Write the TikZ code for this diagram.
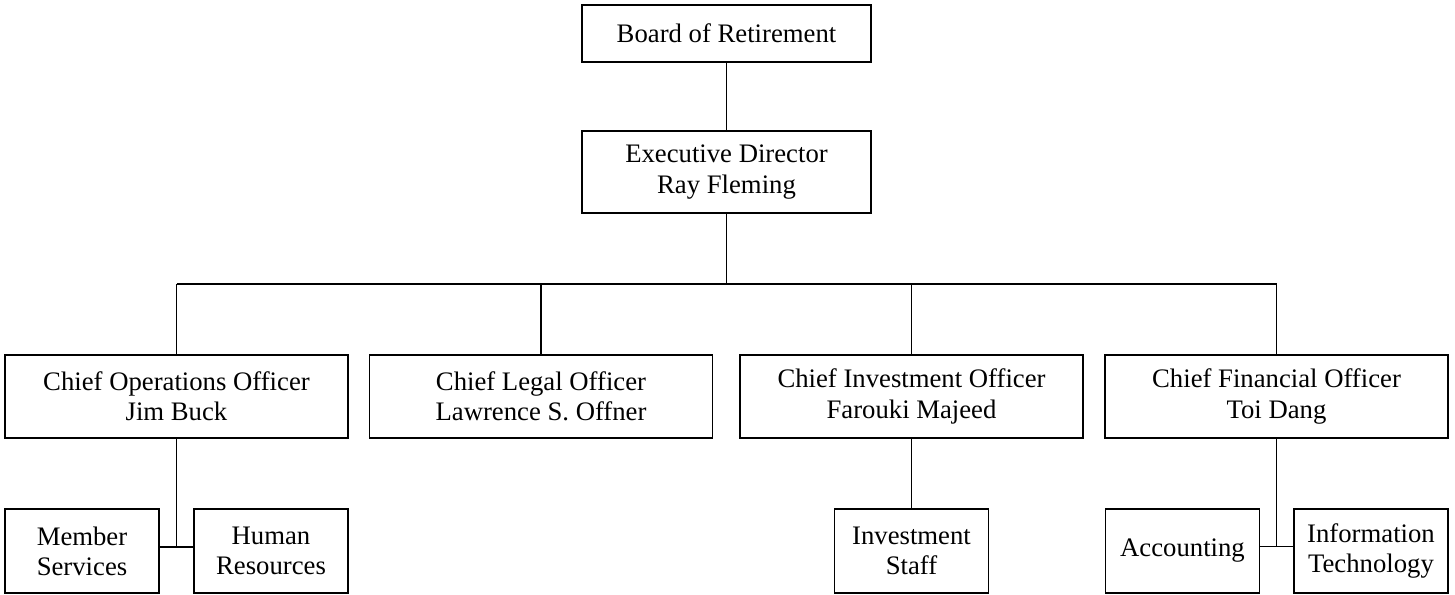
\documentclass[tikz,border=0pt]{standalone}
\usepackage{fontspec}
\setmainfont{Liberation Serif}
\usepackage{tikz}
\usetikzlibrary{positioning,calc}

\begin{document}
\begin{tikzpicture}[every node/.style={font=\fontsize{15.2}{17.2}\selectfont, align=center},
    unit/.style={draw, line width=0.6pt, inner sep=0pt},
    topbox/.style={unit, minimum width=5.78cm},
    officer/.style={unit, minimum width=6.86cm, minimum height=1.66cm},
    staff/.style={unit, minimum width=3.08cm, minimum height=1.68cm},
    link/.style={line width=0.6pt}]
  \useasboundingbox (0,0) rectangle (29.1,-11.88);
  \node[topbox, minimum height=1.14cm] (board) at (14.53,-0.67) {Board of Retirement};
  \node[topbox, minimum height=1.64cm] (exec) at (14.53,-3.44) {Executive Director\\Ray Fleming};
  % officers
  \node[officer] (coo) at (3.53,-7.93) {Chief Operations Officer\\Jim Buck};
  \node[officer] (clo) at (10.82,-7.93) {Chief Legal Officer\\Lawrence S. Offner};
  \node[officer] (cio) at (18.23,-7.93) {Chief Investment Officer\\Farouki Majeed};
  \node[officer] (cfo) at (25.53,-7.93) {Chief Financial Officer\\Toi Dang};
  % staff units
  \node[staff] (member) at (1.64,-11.02) {Member\\Services};
  \node[staff] (hr) at (5.42,-11.02) {Human\\Resources};
  \node[staff] (invstaff) at (18.23,-11.02) {Investment\\Staff};
  \node[staff] (acct) at (23.65,-11.02) {Accounting};
  \node[staff] (it) at (27.42,-11.02) {Information\\Technology};
  % connectors
  \coordinate (busL) at (3.53,-5.68);
  \coordinate (busR) at (25.53,-5.68);
  \draw[link] (board) -- (exec);
  \draw[link] (exec) -- (exec |- busL);
  \draw[link] (busL) -- (busR);
  \foreach \n in {coo,clo,cio,cfo}
    \draw[link] (\n) -- (\n |- busL);
  \coordinate (opsjoin) at (3.53,-10.94);
  \coordinate (finjoin) at (25.53,-10.93);
  \draw[link] (coo) -- (opsjoin);
  \draw[link] (member.east |- opsjoin) -- (hr.west |- opsjoin);
  \draw[link] (cio) -- (invstaff);
  \draw[link] (cfo) -- (finjoin);
  \draw[link] (acct.east |- finjoin) -- (it.west |- finjoin);
\end{tikzpicture}
\end{document}
